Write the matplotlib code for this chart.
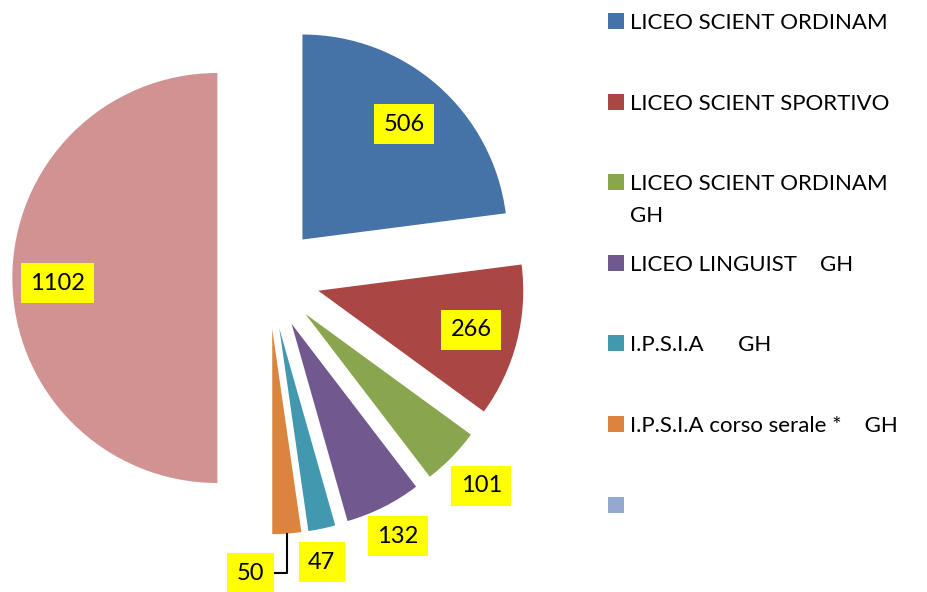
import numpy as np
import matplotlib.pyplot as plt
from matplotlib.patches import Rectangle

plt.rcParams['font.family'] = ['Lato', 'DejaVu Sans']

# data
labels = ['LICEO SCIENT ORDINAM', 'LICEO SCIENT SPORTIVO', 'LICEO SCIENT ORDINAM\nGH',
          'LICEO LINGUIST    GH', 'I.P.S.I.A      GH', 'I.P.S.I.A corso serale *    GH', '']
values = [506, 266, 101, 132, 47, 50, 1102]
colors = ['#4572A7', '#AA4643', '#89A54E', '#71588F', '#4198AF', '#DB843D', '#D09392']
legend_colors = colors[:6] + ['#93A9CF']

# label placement (fraction of radius, angle tweak in degrees)
label_r = [0.75, 0.77, 1.2, 1.16, 1.16, 1.195, 0.78]
label_dang = [0, 0, 0, 0, -1.7, -9.2, 1.8]
leader = [False, False, False, False, False, True, False]

W, H = 927, 592
fig = plt.figure(figsize=(W / 100, H / 100), dpi=100)
ax = fig.add_axes([0, 0, 1, 1])

R = 205
cx, cy = 268.6, H - 278
# explode in pie is in data units, so scale by the radius
wedges, _ = ax.pie(values, colors=colors, startangle=90, counterclock=False,
                   radius=R, center=(cx, cy), explode=[0.25 * R] * len(values),
                   wedgeprops=dict(linewidth=0), frame=True)
ax.set_xlim(0, W)
ax.set_ylim(0, H)
ax.set_aspect('equal')
ax.axis('off')

for i, w in enumerate(wedges):
    mid = np.deg2rad((w.theta1 + w.theta2) / 2)
    ang = mid + np.deg2rad(label_dang[i])
    wx, wy = w.center
    lx = wx + label_r[i] * R * np.cos(ang)
    ly = wy + label_r[i] * R * np.sin(ang)
    ax.text(lx, ly, str(values[i]), ha='center', va='center', fontsize=17,
            bbox=dict(boxstyle='square,pad=0.4', fc='#FFFF00', ec='none'))
    if leader[i]:
        # leader line from the slice edge
        sx = wx + R * np.cos(mid)
        sy = wy + R * np.sin(mid)
        ax.plot([sx, sx, lx + 23], [sy, ly, ly], color='black', lw=1.5)

# legend
for i, (lab, col) in enumerate(zip(labels, legend_colors)):
    yc = H - (21 + i * 80.6)
    ax.add_patch(Rectangle((608, yc - 8), 16, 16, fc=col, ec='none'))
    for j, line in enumerate(lab.split('\n')):
        ax.text(630, yc - 8 - j * 31.7, line, ha='left', va='baseline', fontsize=16)

plt.savefig('out.png', dpi=100)
